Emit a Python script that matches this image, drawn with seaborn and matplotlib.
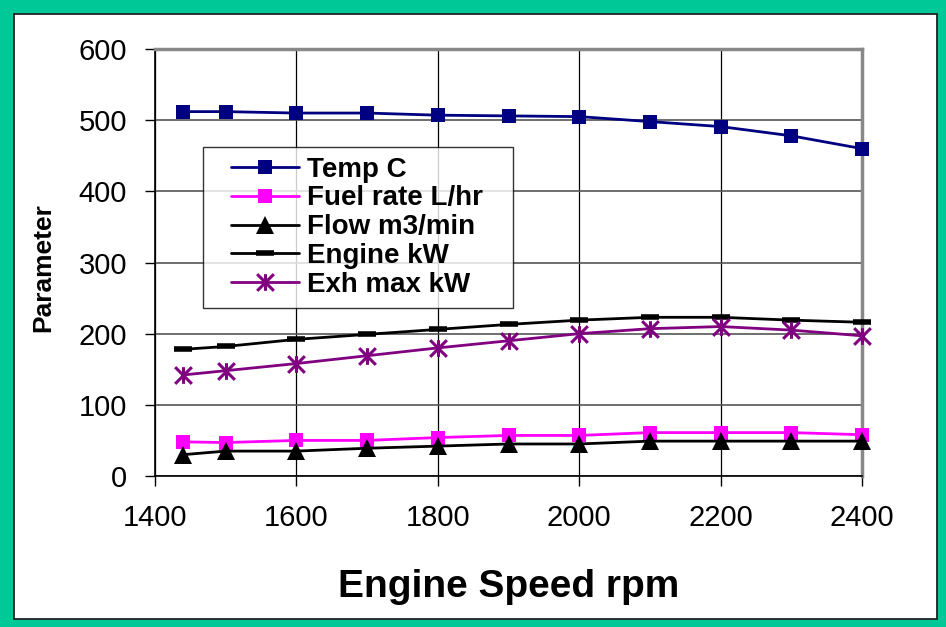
import matplotlib
matplotlib.use("Agg")
import matplotlib.pyplot as plt
from matplotlib.patches import Rectangle
from matplotlib.path import Path
from matplotlib.lines import Line2D
from matplotlib.legend_handler import HandlerLine2D
import seaborn as sns
import pandas as pd

# Engine test data
rpm = [1440, 1500, 1600, 1700, 1800, 1900, 2000, 2100, 2200, 2300, 2400]
temp_c = [512, 512, 510, 510, 507, 506, 505, 498, 491, 478, 460]
fuel_rate = [48, 47, 50, 50, 54, 57, 57, 61, 61, 61, 58]
flow = [30, 35, 35, 39, 42, 45, 45, 49, 49, 49, 49]
engine_kw = [178, 182, 192, 199, 206, 213, 219, 223, 223, 219, 216]
exh_max_kw = [142, 148, 158, 169, 180, 190, 200, 207, 210, 205, 197]

series_names = ["Temp C", "Fuel rate L/hr", "Flow m3/min", "Engine kW", "Exh max kW"]
series_values = [temp_c, fuel_rate, flow, engine_kw, exh_max_kw]

x_ticks = [1400, 1600, 1800, 2000, 2200, 2400]
y_ticks = [0, 100, 200, 300, 400, 500, 600]

df = pd.DataFrame(
    [(r, name, v) for name, vals in zip(series_names, series_values) for r, v in zip(rpm, vals)],
    columns=["rpm", "series", "value"],
)

sns.set_style("white")
plt.rcParams["font.family"] = ["Liberation Sans", "DejaVu Sans"]
plt.rcParams["text.color"] = "black"
plt.rcParams["axes.labelcolor"] = "black"
plt.rcParams["xtick.color"] = "black"
plt.rcParams["ytick.color"] = "black"

W, H = 946, 627
fig = plt.figure(figsize=(W / 100, H / 100), dpi=100)

# green frame with a thin dark inner border
fig.patches.append(Rectangle((0, 0), 1, 1, transform=fig.transFigure,
                             facecolor="#00C997", edgecolor="none", zorder=-20))
fl, ft, fr, fb = 14, 14, 9, 8
fig.patches.append(Rectangle((fl / W, fb / H), 1 - (fl + fr) / W, 1 - (ft + fb) / H,
                             transform=fig.transFigure, facecolor="white",
                             edgecolor="#222222", linewidth=1.3, zorder=-19))

ax_l, ax_r, ax_t, ax_b = 155, 862, 49, 476
ax = fig.add_axes([ax_l / W, 1 - ax_b / H, (ax_r - ax_l) / W, (ax_b - ax_t) / H])
ax.set_facecolor("white")

# asterisk marker: a vertical bar crossed by an X
star = Path([(0, -1), (0, 1), (-1, -1), (1, 1), (-1, 1), (1, -1)],
            [Path.MOVETO, Path.LINETO, Path.MOVETO, Path.LINETO, Path.MOVETO, Path.LINETO])

styles = {
    "Temp C": dict(color="#000080", marker="s", ms=10, mew=0),
    "Fuel rate L/hr": dict(color="#FF00FF", marker="s", ms=10, mew=0),
    "Flow m3/min": dict(color="black", marker="^", ms=12.5, mew=0),
    "Engine kW": dict(color="black", marker="_", ms=13, mew=4),
    "Exh max kW": dict(color="#800080", marker=star, ms=12, mew=2.2),
}

for name in series_names:
    st = styles[name]
    sub = df[df["series"] == name]
    sns.lineplot(data=sub, x="rpm", y="value", ax=ax, label=name,
                 color=st["color"], marker=st["marker"], markersize=st["ms"],
                 markeredgewidth=st["mew"], markeredgecolor=st["color"],
                 linewidth=2, zorder=5, clip_on=False)

ax.set_xlim(1400, 2400)
ax.set_ylim(0, 600)
ax.set_xticks(x_ticks)
ax.set_yticks(y_ticks)

ax.grid(True, axis="x", color="black", linewidth=0.9)
ax.grid(True, axis="y", color="#555555", linewidth=1.2)

for side in ["left", "bottom"]:
    ax.spines[side].set_color("black")
    ax.spines[side].set_linewidth(1.2)
for side in ["top", "right"]:
    ax.spines[side].set_color("#888888")
    ax.spines[side].set_linewidth(2.5)

ax.tick_params(axis="both", direction="out", length=7, width=1, color="black",
               labelsize=21, labelcolor="black")
ax.tick_params(axis="x", pad=13, bottom=True)
ax.tick_params(axis="y", pad=13, left=True)

ax.set_xlabel("Engine Speed rpm", fontsize=28, fontweight="bold", color="black")
ax.xaxis.set_label_coords(0.5, (ax_b - 597) / (ax_b - ax_t))
ax.xaxis.label.set_va("baseline")

ax.set_ylabel("Parameter", fontsize=19, fontweight="bold", color="black")
ax.yaxis.set_label_coords((43 - ax_l) / (ax_r - ax_l), (ax_b - 268) / (ax_b - ax_t))
ax.yaxis.label.set_va("center")

# legend box spanning a fixed region inside the plot
leg_x0, leg_x1, leg_y0, leg_y1 = 203, 513, 147, 310
fs = 20
px = fs * 100 / 72
handler = HandlerLine2D(xpad=18 / px)
leg = ax.legend(loc="upper left",
                bbox_to_anchor=((leg_x0 - ax_l) / (ax_r - ax_l),
                                (ax_b - leg_y1) / (ax_b - ax_t),
                                (leg_x1 - leg_x0) / (ax_r - ax_l),
                                (leg_y1 - leg_y0) / (ax_b - ax_t)),
                mode="expand", borderaxespad=0, frameon=True, fancybox=False,
                shadow=False,
                prop=dict(family="Liberation Sans", weight="bold", size=fs),
                handlelength=86 / px, labelspacing=0.1, borderpad=0.35,
                handletextpad=8 / px,
                handler_map={Line2D: handler})
leg.get_frame().set_edgecolor("black")
leg.get_frame().set_linewidth(1)
leg.set_zorder(10)
for t in leg.get_texts():
    t.set_color("black")

fig.savefig("out.png", dpi=100)
